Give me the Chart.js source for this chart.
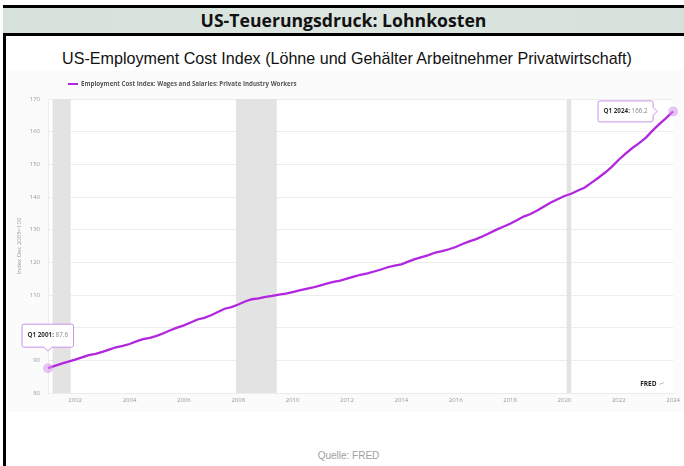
<!DOCTYPE html>
<html><head><meta charset="utf-8">
<script src="https://cdn.jsdelivr.net/npm/chart.js@4.4.1/dist/chart.umd.min.js"></script>
<style>
html,body{margin:0;padding:0;background:#fff;}
body{width:684px;height:466px;position:relative;overflow:hidden;font-family:"Liberation Sans",Arial,sans-serif;}
#frameL{position:absolute;left:3px;top:5px;width:3px;height:461px;background:#000;}
#titlebar{position:absolute;left:3px;top:5px;width:681px;height:25px;border-top:3px solid #000;border-bottom:3px solid #000;background:linear-gradient(90deg,#d6e1db,#dce5e0 50%,#d6e1db);}
#title{position:absolute;left:0;right:0;top:0;height:25px;line-height:25px;text-align:center;font-family:"Open Sans","Noto Sans",sans-serif;font-weight:bold;color:#111;white-space:nowrap;}
#subtitle{position:absolute;left:0;width:694px;top:49px;height:18px;line-height:18px;text-align:center;font-family:"Liberation Sans",Arial,sans-serif;color:#111;white-space:nowrap;}
#chartbox{position:absolute;left:8px;top:70px;width:676px;height:342px;background:#fbfbfb;}
#c{position:absolute;left:0;top:0;}
#source{position:absolute;left:0;width:697px;top:449px;height:14px;line-height:14px;text-align:center;color:#a0a0a0;font-size:10px;white-space:nowrap;}
</style></head>
<body>
<div id="frameL"></div>
<div id="titlebar"><div id="title">US-Teuerungsdruck: Lohnkosten</div></div>
<div id="subtitle">US-Employment Cost Index (Löhne und Gehälter Arbeitnehmer Privatwirtschaft)</div>
<div id="chartbox"><canvas id="c" width="676" height="342"></canvas></div>
<div id="source">Quelle: FRED</div>
<script>
// ---------- DATA ----------
const firstYear = 2001;
const categories = [];
for (let y = 2001; y <= 2024; y++) { for (let q = 1; q <= 4; q++) { if (y === 2024 && q > 1) break; categories.push('Q' + q + ' ' + y); } }
const wages = [
  87.6, 88.3, 89.0, 89.6,
  90.2, 90.9, 91.6, 92.0,
  92.6, 93.3, 94.0, 94.4,
  95.0, 95.8, 96.5, 96.9,
  97.5, 98.3, 99.2, 100.0,
  100.7, 101.6, 102.5, 103.0,
  103.8, 104.8, 105.8, 106.3,
  107.1, 108.0, 108.7, 109.0,
  109.4, 109.7, 110.1, 110.4,
  110.9, 111.4, 111.9, 112.3,
  112.9, 113.5, 114.0, 114.4,
  115.0, 115.6, 116.2, 116.6,
  117.2, 117.8, 118.5, 119.0,
  119.4, 120.2, 121.0, 121.6,
  122.2, 123.0, 123.4, 124.0,
  124.7, 125.6, 126.4, 127.1,
  128.0, 129.0, 130.0, 130.9,
  131.8, 132.9, 134.0, 134.8,
  135.9, 137.1, 138.3, 139.3,
  140.3, 141.0, 142.0, 142.9,
  144.4, 145.9, 147.5, 149.3,
  151.4, 153.3, 155.0, 156.5,
  158.2, 160.4, 162.4, 164.2,
  166.2
];
const xTickLabels = ['2002','2004','2006','2008','2010','2012','2014','2016','2018','2020','2022','2024'];
const yMin = 80, yMax = 170, yStep = 10;
const recessions = [['2001-03','2001-11'], ['2007-12','2009-06'], ['2020-02','2020-04']];
const seriesName = 'Employment Cost Index: Wages and Salaries: Private Industry Workers';
const yAxisTitle = 'Index Dec 2005=100';
const highlighted = [0, wages.length - 1];

// ---------- text fitting ----------
const mctx = document.createElement('canvas').getContext('2d');
const tEl = document.getElementById('title');
(function(){ mctx.font = 'bold 20px "Open Sans"'; const w = mctx.measureText(tEl.textContent).width; tEl.style.fontSize = (20*286/w).toFixed(2)+'px'; })();
const sEl = document.getElementById('subtitle');
(function(){ mctx.font = '14px "Liberation Sans"'; const w = mctx.measureText(sEl.textContent).width; sEl.style.fontSize = (14*571/w).toFixed(2)+'px'; })();

function monthToIndex(s) { const [y, m] = s.split('-').map(Number); return (y - firstYear) * 4 + (m - 1) / 3; }

const PURPLE = '#b226e0';
const TICKFONT = { family: '"Open Sans"', size: 6 };

const decor = {
  id: 'decor',
  beforeDatasetsDraw(chart) {
    const { ctx, chartArea: a, scales: { x } } = chart;
    ctx.save();
    ctx.fillStyle = '#e3e3e3';
    recessions.forEach(([s, e]) => {
      const x0 = x.getPixelForValue(monthToIndex(s)), x1 = x.getPixelForValue(monthToIndex(e));
      ctx.fillRect(x0, a.top, Math.max(x1 - x0, 1), a.bottom - a.top);
    });
    ctx.restore();
  },
  beforeDraw(chart) {
    const { ctx, chartArea: a } = chart;
    ctx.save(); ctx.fillStyle = '#ffffff'; ctx.fillRect(a.left, a.top, a.right - a.left, a.bottom - a.top); ctx.restore();
  },
  afterDatasetsDraw(chart) {
    const { ctx, chartArea: a, scales: { x, y } } = chart;
    ctx.save();
    // legend
    ctx.strokeStyle = PURPLE; ctx.lineWidth = 2;
    ctx.beginPath(); ctx.moveTo(a.left + 20, 14); ctx.lineTo(a.left + 30, 14); ctx.stroke();
    ctx.font = 'bold 6px "Open Sans"';
    const lw = ctx.measureText(seriesName).width;
    ctx.font = 'bold ' + (6 * 216 / lw).toFixed(2) + 'px "Open Sans"';
    ctx.fillStyle = '#555'; ctx.textBaseline = 'middle'; ctx.textAlign = 'left';
    ctx.fillText(seriesName, a.left + 33, 14);
    // FRED logo
    ctx.font = 'bold 6.5px "Open Sans"'; ctx.fillStyle = '#222';
    ctx.fillText('FRED', a.right - 33, a.bottom - 9);
    ctx.strokeStyle = '#9aa'; ctx.lineWidth = 0.7;
    ctx.beginPath(); const fx = a.right - 14, fy = a.bottom - 8;
    ctx.moveTo(fx, fy); ctx.lineTo(fx + 2, fy - 2); ctx.lineTo(fx + 3, fy - 1); ctx.lineTo(fx + 5, fy - 3); ctx.stroke();
    // tooltips
    highlighted.forEach((i, k) => {
      const px = x.getPixelForValue(i), py = y.getPixelForValue(wages[i]);
      const lab = categories[i] + ':', val = ' ' + wages[i].toFixed(1);
      ctx.font = 'bold 6.3px "Open Sans"'; const w1 = ctx.measureText(lab).width;
      ctx.font = '6.3px "Open Sans"'; const w2 = ctx.measureText(val).width;
      const w = w1 + w2 + 11, h = k === 0 ? 23 : 21;
      let bx, by;
      if (k === 0) { bx = px - 26; by = py - 44; } else { bx = px - 20 - w; by = py - 10.5; }
      ctx.fillStyle = '#fff'; ctx.strokeStyle = '#c993e6'; ctx.lineWidth = 1;
      ctx.beginPath();
      if (k === 0) {
        ctx.moveTo(bx + 2, by); ctx.lineTo(bx + w - 2, by); ctx.quadraticCurveTo(bx + w, by, bx + w, by + 2);
        ctx.lineTo(bx + w, by + h - 2); ctx.quadraticCurveTo(bx + w, by + h, bx + w - 2, by + h);
        ctx.lineTo(px + 4, by + h); ctx.lineTo(px, by + h + 4); ctx.lineTo(px - 4, by + h);
        ctx.lineTo(bx + 2, by + h); ctx.quadraticCurveTo(bx, by + h, bx, by + h - 2);
        ctx.lineTo(bx, by + 2); ctx.quadraticCurveTo(bx, by, bx + 2, by);
      } else {
        ctx.moveTo(bx + 2, by); ctx.lineTo(bx + w - 2, by); ctx.quadraticCurveTo(bx + w, by, bx + w, by + 2);
        ctx.lineTo(bx + w, py - 4); ctx.lineTo(bx + w + 4, py); ctx.lineTo(bx + w, py + 4);
        ctx.lineTo(bx + w, by + h - 2); ctx.quadraticCurveTo(bx + w, by + h, bx + w - 2, by + h);
        ctx.lineTo(bx + 2, by + h); ctx.quadraticCurveTo(bx, by + h, bx, by + h - 2);
        ctx.lineTo(bx, by + 2); ctx.quadraticCurveTo(bx, by, bx + 2, by);
      }
      ctx.closePath(); ctx.fill(); ctx.stroke();
      ctx.textBaseline = 'middle';
      ctx.font = 'bold 6.3px "Open Sans"'; ctx.fillStyle = '#333'; ctx.fillText(lab, bx + 5.5, by + h / 2);
      ctx.font = '6.3px "Open Sans"'; ctx.fillStyle = '#888'; ctx.fillText(val, bx + 5.5 + w1, by + h / 2);
    });
    ctx.restore();
  }
};

new Chart(document.getElementById('c'), {
  type: 'line',
  data: {
    labels: categories,
    datasets: [{
      label: seriesName,
      data: wages,
      borderColor: PURPLE,
      borderWidth: 2.3,
      tension: 0,
      clip: false,
      pointRadius: ctx => highlighted.includes(ctx.dataIndex) ? 5 : 0,
      pointBackgroundColor: 'rgba(214,150,238,0.55)',
      pointBorderWidth: 0
    }]
  },
  options: {
    responsive: false,
    animation: false,
    devicePixelRatio: 1,
    layout: { padding: { left: 0, right: 8, top: 29, bottom: 0 } },
    plugins: { legend: { display: false }, tooltip: { enabled: false } },
    scales: {
      x: {
        type: 'category',
        offset: false,
        grid: { display: false, drawTicks: false },
        border: { display: false },
        ticks: {
          autoSkip: false, maxRotation: 0, minRotation: 0, padding: 4,
          color: '#9a9a9a', font: TICKFONT,
          callback: function (value, index) {
            const lab = categories[index];
            if (lab && lab.startsWith('Q1 ')) { const yr = lab.slice(3); if (xTickLabels.includes(yr)) return yr; }
            return null;
          }
        },
        afterFit: s => { s.height = 19; }
      },
      y: {
        min: yMin, max: yMax,
        grid: { color: '#ececec', drawTicks: false, lineWidth: 1 },
        border: { display: true, color: '#ececec' },
        ticks: { stepSize: yStep, padding: 8, color: '#9a9a9a', font: TICKFONT },
        title: { display: true, text: yAxisTitle, color: '#999', font: { family: '"Open Sans"', size: 6 }, padding: { top: 8, bottom: 0 } },
        afterFit: s => { s.width = 40; }
      }
    }
  },
  plugins: [decor]
});
</script>
</body></html>
